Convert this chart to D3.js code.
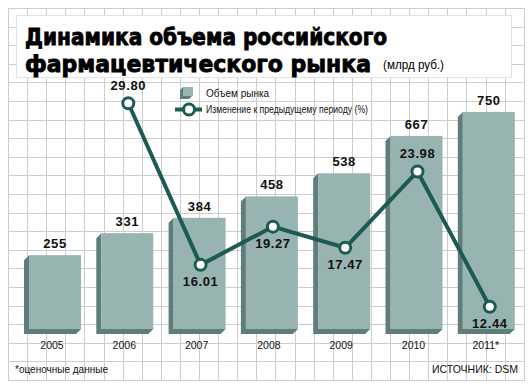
<!DOCTYPE html>
<html>
<head>
<meta charset="utf-8">
<script src="https://cdn.jsdelivr.net/npm/d3@7"></script>
<style>
  body { margin: 0; background: #fff; }
  svg { display: block; }
</style>
</head>
<body>
<div id="chart-area"></div>
<script>
// data
var years = ["2005", "2006", "2007", "2008", "2009", "2010", "2011*"];
var market = [255, 331, 384, 458, 538, 667, 750];
var change = [null, 29.80, 16.01, 19.27, 17.47, 23.98, 12.44];
var changeLabelSide = [null, "up", "down", "down", "down", "up", "down"];
var marketTicks = [0, 750];
var changeTicks = [10, 30];

var W = 528, H = 389;
var barColor = "#97b4b1", sideColor = "#5f7d79", lineColor = "#1e5a54";

var svg = d3.select("#chart-area").append("svg")
    .attr("width", W)
    .attr("height", H);

// grid background
var grid = svg.append("g");
d3.range(0, 28).forEach(k => {
    var x = Math.round(8 + 19.1 * k) + 0.5;
    grid.append("line").attr("x1", x).attr("x2", x).attr("y1", 8.5).attr("y2", 380.5);
});
d3.range(0, 21).forEach(k => {
    var y = Math.round(8 + 18.6 * k) + 0.5;
    grid.append("line").attr("x1", 8.5).attr("x2", 524.5).attr("y1", y).attr("y2", y);
});
grid.selectAll("line").attr("stroke", "#cdcdcd").attr("stroke-width", 1);

// title box
svg.append("rect")
    .attr("x", 16.5).attr("y", 15.5)
    .attr("width", 495).attr("height", 62)
    .attr("fill", "#fff")
    .attr("stroke", "#e2e2e2");

svg.append("text")
    .attr("x", 25).attr("y", 45)
    .attr("font-family", "'DejaVu Sans', sans-serif")
    .attr("font-weight", "bold")
    .attr("font-size", 23)
    .attr("stroke", "#000")
    .attr("stroke-width", 0.9)
    .attr("textLength", 362)
    .attr("lengthAdjust", "spacingAndGlyphs")
    .text("Динамика объема российского");

svg.append("text")
    .attr("x", 25).attr("y", 72)
    .attr("font-family", "'DejaVu Sans', sans-serif")
    .attr("font-weight", "bold")
    .attr("font-size", 23)
    .attr("stroke", "#000")
    .attr("stroke-width", 0.9)
    .attr("textLength", 346)
    .attr("lengthAdjust", "spacingAndGlyphs")
    .text("фармацевтического рынка");

svg.append("text")
    .attr("x", 383).attr("y", 69)
    .attr("font-family", "'Liberation Sans Narrow', 'Liberation Sans', sans-serif")
    .attr("font-size", 13)
    .attr("textLength", 61)
    .attr("lengthAdjust", "spacingAndGlyphs")
    .text("(млрд руб.)");

// scales
var x = d3.scalePoint()
    .domain(years)
    .range([55, 488.8]);

var y = d3.scaleLinear()
    .domain(d3.extent(marketTicks))
    .range([329, 111.9]);

var y2 = d3.scaleLinear()
    .domain(d3.extent(changeTicks))
    .range([335.3, 100.9]);

var half = 26, dx = 5, dy = 5;
var base = y(0);

// bars (3D)
var bars = svg.append("g").selectAll("g")
    .data(years.map((yr, i) => ({ year: yr, v: market[i] })))
    .enter().append("g");

bars.append("path")
    .attr("fill", sideColor)
    .attr("d", d => {
        var c = x(d.year), t = y(d.v);
        return "M" + (c - half) + "," + t + "L" + (c - half - dx) + "," + (t + dy) +
            "L" + (c - half - dx) + "," + (base + dy) + "L" + (c + half - dx) + "," + (base + dy) +
            "L" + (c + half) + "," + base + "L" + (c - half) + "," + base + "Z";
    });

bars.append("rect")
    .attr("x", d => x(d.year) - half)
    .attr("y", d => y(d.v))
    .attr("width", half * 2)
    .attr("height", d => base - y(d.v))
    .attr("fill", barColor);

bars.append("text")
    .attr("x", d => x(d.year))
    .attr("y", d => y(d.v) - 7)
    .attr("text-anchor", "middle")
    .attr("font-family", "'Liberation Sans', Arial, sans-serif")
    .attr("font-weight", "bold")
    .attr("font-size", 13)
    .attr("letter-spacing", 0.6)
    .attr("fill", "#111")
    .text(d => d.v);

// x labels
svg.append("g").selectAll("text")
    .data(years)
    .enter().append("text")
    .attr("x", d => x(d) - 3)
    .attr("y", 349)
    .attr("text-anchor", "middle")
    .attr("font-family", "'Liberation Sans', Arial, sans-serif")
    .attr("font-size", 10.5)
    .attr("fill", "#111")
    .text(d => d);

// line
var pts = years.map((yr, i) => ({ year: yr, v: change[i], side: changeLabelSide[i] }))
    .filter(d => d.v != null);

var line = d3.line()
    .x(d => x(d.year) + 1)
    .y(d => y2(d.v));

svg.append("path")
    .datum(pts)
    .attr("d", line)
    .attr("fill", "none")
    .attr("stroke", lineColor)
    .attr("stroke-width", 4)
    .attr("stroke-linejoin", "round");

svg.append("g").selectAll("circle")
    .data(pts)
    .enter().append("circle")
    .attr("cx", d => x(d.year) + 1)
    .attr("cy", d => y2(d.v))
    .attr("r", 5.5)
    .attr("fill", "#fff")
    .attr("stroke", lineColor)
    .attr("stroke-width", 3);

svg.append("g").selectAll("text")
    .data(pts)
    .enter().append("text")
    .attr("x", d => x(d.year) + 1)
    .attr("y", d => y2(d.v) + (d.side === "up" ? -13 : 21))
    .attr("text-anchor", "middle")
    .attr("font-family", "'Liberation Sans', Arial, sans-serif")
    .attr("font-weight", "bold")
    .attr("font-size", 13)
    .attr("letter-spacing", 0.6)
    .attr("fill", "#111")
    .text(d => d.v.toFixed(2));

// legend
var lg = svg.append("g");
lg.append("path")
    .attr("fill", sideColor)
    .attr("d", "M183,87L180,90L180,99L189,99L192,96L183,96Z");
lg.append("rect")
    .attr("x", 183).attr("y", 87).attr("width", 10).attr("height", 9)
    .attr("fill", barColor);
lg.append("text")
    .attr("x", 206).attr("y", 97)
    .attr("font-family", "'Liberation Sans', Arial, sans-serif")
    .attr("font-size", 10)
    .attr("fill", "#111")
    .text("Объем рынка");

lg.append("line")
    .attr("x1", 175).attr("x2", 202).attr("y1", 109.5).attr("y2", 109.5)
    .attr("stroke", lineColor).attr("stroke-width", 4);
lg.append("circle")
    .attr("cx", 189).attr("cy", 109.5).attr("r", 5.5)
    .attr("fill", "#fff").attr("stroke", lineColor).attr("stroke-width", 3);
lg.append("text")
    .attr("x", 206).attr("y", 113)
    .attr("font-family", "'Liberation Sans', Arial, sans-serif")
    .attr("font-size", 10)
    .attr("textLength", 162)
    .attr("lengthAdjust", "spacingAndGlyphs")
    .attr("fill", "#111")
    .text("Изменение к предыдущему периоду (%)");

// footnotes
svg.append("text")
    .attr("x", 15).attr("y", 373)
    .attr("font-family", "'Liberation Sans', Arial, sans-serif")
    .attr("font-size", 10)
    .attr("fill", "#111")
    .text("*оценочные данные");

svg.append("text")
    .attr("x", 518).attr("y", 373)
    .attr("text-anchor", "end")
    .attr("font-family", "'Liberation Sans Narrow', 'Liberation Sans', sans-serif")
    .attr("font-size", 10.5)
    .attr("fill", "#111")
    .text("ИСТОЧНИК: DSM");
</script>
</body>
</html>
